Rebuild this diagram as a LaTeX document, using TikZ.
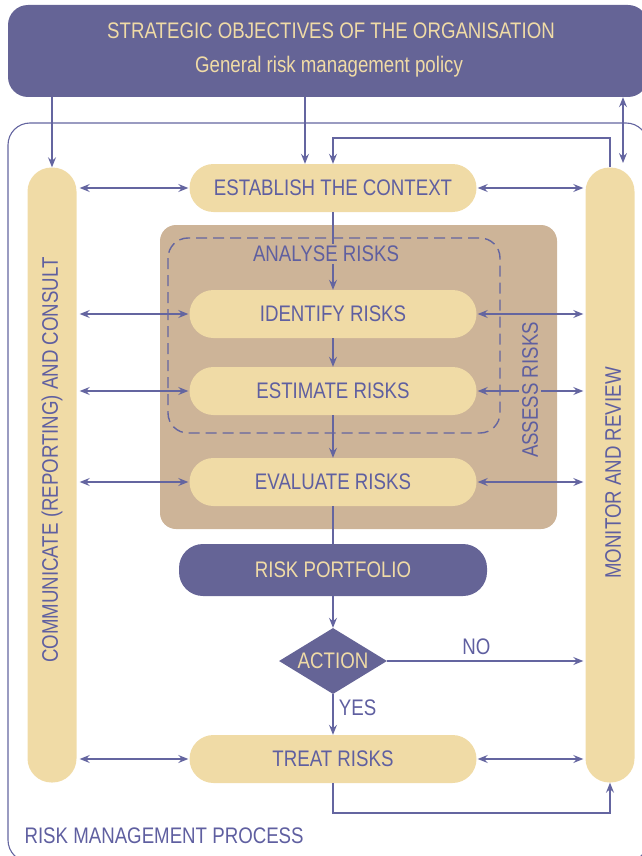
\documentclass[tikz,border=0pt]{standalone}
\usepackage{fontspec}
\setmainfont{Liberation Sans}[FakeStretch=0.83]
\usetikzlibrary{arrows.meta,shapes.geometric}
\definecolor{purp}{RGB}{101,100,150}
\definecolor{ln}{RGB}{100,101,160}
\definecolor{txt}{RGB}{95,95,160}
\definecolor{pale}{RGB}{240,219,166}
\definecolor{brownbox}{RGB}{205,180,152}
\begin{document}
\begin{tikzpicture}[x=1pt,y=-1pt,
  lbl/.style={font=\fontsize{22.5}{26}\selectfont, text=txt},
  pill/.style={fill=pale, rounded corners=24pt, minimum width=287pt, minimum height=48pt, inner sep=0pt, lbl},
  column/.style={fill=pale, rounded corners=24pt, minimum width=49pt, minimum height=615pt, inner sep=0pt},
  tip/.tip={Stealth[length=10pt,width=8pt,inset=3.5pt]},
  arr/.style={draw=ln, line width=1.1pt, -tip},
  dbl/.style={draw=ln, line width=1.1pt, tip-tip},
  plain/.style={draw=ln, line width=1.1pt},
]
\useasboundingbox (0,0) rectangle (642,856);
\clip (0,0) rectangle (642,856);
% outer frame
\draw[ln, line width=1.1pt, rounded corners=22pt] (8,123) rectangle (648,862);
\node[lbl, anchor=west] (rmp) at (21,836) {RISK MANAGEMENT PROCESS};
% banner
\node[fill=purp, rounded corners=20pt, minimum width=640pt, minimum height=92pt, inner sep=0pt] (obj) at (328,51) {};
\node[lbl, text=pale] (objt1) at (331,31) {STRATEGIC OBJECTIVES OF THE ORGANISATION};
\node[lbl, text=pale] (objt2) at (329,67) {General risk management policy};
% columns
\node[column] (lc) at (52,475) {};
\node[lbl, rotate=90] (lct) at (52,460) {COMMUNICATE (REPORTING) AND CONSULT};
\node[column] (rc) at (610,475) {};
\node[lbl, rotate=90] (rct) at (613,473) {MONITOR AND REVIEW};
% assess box
\node[fill=brownbox, rounded corners=16pt, minimum width=397pt, minimum height=304pt, inner sep=0pt] (assess) at (358.5,377) {};
\draw[ln, line width=1.4pt, dash pattern=on 11pt off 6pt, rounded corners=20pt] (168,238) rectangle (500,433);
% boxes
\node[pill] (est) at (333,188) {ESTABLISH THE CONTEXT};
\node[pill] (idf) at (333,314) {IDENTIFY RISKS};
\node[pill] (esti) at (333,391) {ESTIMATE RISKS};
\node[pill] (evl) at (333,482) {EVALUATE RISKS};
\node[pill, fill=purp, text=pale, minimum width=308pt, minimum height=52pt, rounded corners=24pt] (port) at (333,570) {RISK PORTFOLIO};
\node[diamond, fill=purp, minimum width=108pt, minimum height=66pt, inner sep=0pt, aspect=1.64] (act) at (333,661) {};
\node[lbl, text=pale] (actt) at (act) {ACTION};
\node[pill] (trt) at (333,759) {TREAT RISKS};
% vertical flow
\draw[arr] (est.south) -- (idf.north);
\node[lbl, fill=brownbox, inner sep=2pt] (ana) at (326,254) {ANALYSE RISKS};
\draw[arr] (idf.south) -- (esti.north);
\draw[arr] (esti.south) -- (evl.north);
\draw[plain] (evl.south) -- (port.north);
\draw[arr] (port.south) -- (act.north);
\draw[arr] (act.south) -- (trt.north) node[lbl, midway, anchor=west, xshift=2pt, yshift=7pt] (yes) {YES};
\draw[arr, shorten >=2pt] (act.east) -- (rc.west |- act) node[lbl, pos=0.45, anchor=south, yshift=2pt] (no) {NO};
% double arrows to the columns
\foreach \b in {est,idf,esti,evl,trt}{
  \draw[dbl, shorten <=3pt, shorten >=1pt] (lc.east |- \b) -- (\b.west);
  \draw[dbl, shorten <=1pt, shorten >=2pt] (\b.east) -- (rc.west |- \b);
}
\node[lbl, rotate=90, fill=brownbox, inner sep=3pt] (asr) at (530,390) {ASSESS RISKS};
% banner links
\draw[arr] (obj.south -| lc) -- (lc.north);
\draw[arr] (obj.south -| 305,0) -- (est.north -| 305,0);
\coordinate (rtop) at (623,163);
\draw[dbl] (obj.south -| rtop) -- (rtop);
\coordinate (fb1) at (610,138);
\draw[arr] (rc.north) -- (fb1) -- (fb1 -| est) -- (est.north);
\coordinate (fb2) at (333,813);
\draw[arr] (trt.south) -- (fb2) -- (fb2 -| rc) -- (rc.south);
\end{tikzpicture}
\end{document}
